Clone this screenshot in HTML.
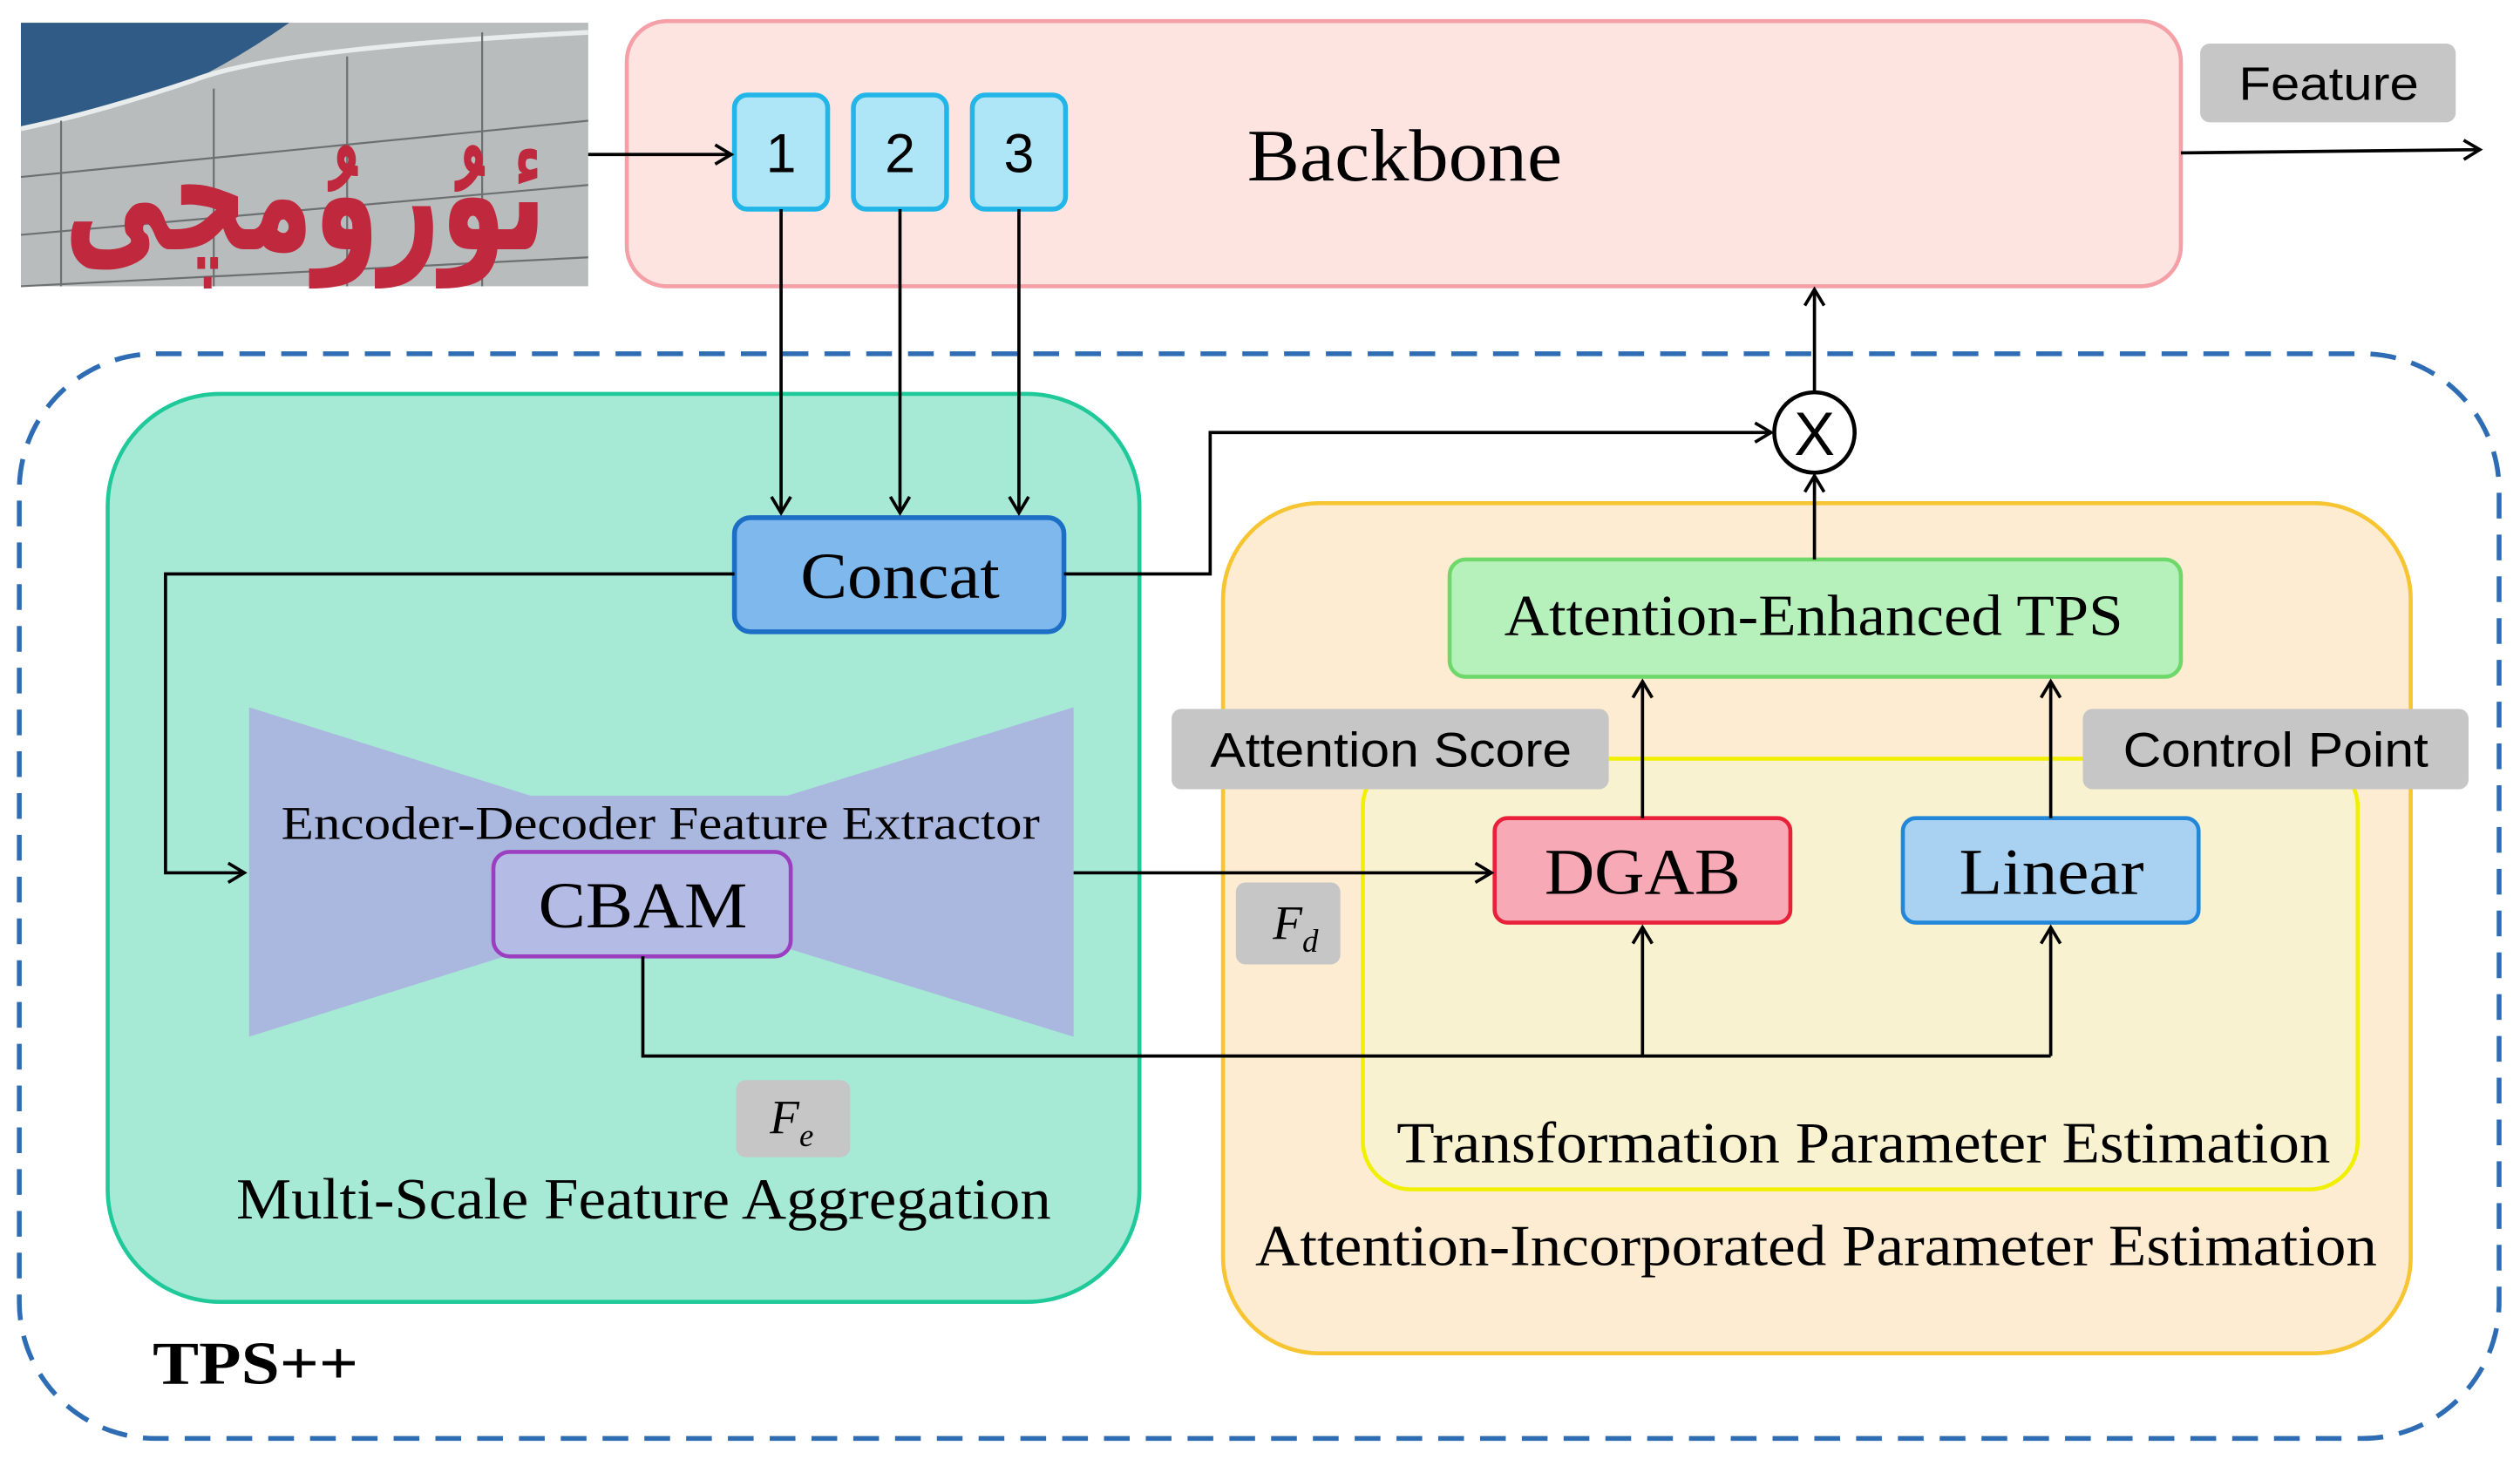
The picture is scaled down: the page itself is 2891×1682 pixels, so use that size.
<!DOCTYPE html>
<html><head><meta charset="utf-8"><style>
html,body{margin:0;padding:0;background:#fff;}
svg{display:block;}
.serif{font-family:"Liberation Serif",serif;}
.sans{font-family:"Liberation Sans",sans-serif;}
</style></head><body>
<svg width="2891" height="1682" viewBox="0 0 1568 912" xmlns="http://www.w3.org/2000/svg">
<defs>
<marker id="a" markerWidth="14" markerHeight="14" refX="11" refY="7" orient="auto" markerUnits="userSpaceOnUse">
<polyline points="1,1 11,7 1,13" fill="none" stroke="#000" stroke-width="2"/>
</marker>
</defs>
<rect width="1568" height="912" fill="#fff"/>
<!-- photo -->
<g>
<rect x="13" y="14" width="353" height="164" fill="#b9bcbc"/>
<path d="M13,14 L180,14 Q150,35 120,50 Q60,70 13,80 Z" fill="#2f5b86"/>
<path d="M13,80 Q60,70 120,50 Q170,30 366,20" fill="none" stroke="#e8ecec" stroke-width="3"/>
<g stroke="#6d7070" stroke-width="1.2" fill="none">
<path d="M13,110 L366,75"/><path d="M13,146 L366,115"/><path d="M13,178 L366,160"/>
<line x1="38" y1="75" x2="38" y2="178"/><line x1="133" y1="55" x2="133" y2="178"/><line x1="216" y1="35" x2="216" y2="178"/><line x1="300" y1="20" x2="300" y2="178"/>
</g>
<text x="190" y="155" text-anchor="middle" font-family="DejaVu Sans,sans-serif" font-size="100" font-weight="bold" fill="#c0283e" textLength="300" lengthAdjust="spacingAndGlyphs">ئۇرۇمچى</text>
</g>
<!-- backbone -->
<rect x="390" y="13" width="967" height="165" rx="25" fill="#fde4e1" stroke="#f4a0a6" stroke-width="2.5"/>
<text x="776" y="112" class="serif" font-size="46" textLength="196" lengthAdjust="spacingAndGlyphs">Backbone</text>
<g class="sans" font-size="34" text-anchor="middle">
<rect x="457" y="59" width="58" height="71" rx="8" fill="#aee6f7" stroke="#22b5e8" stroke-width="3"/>
<text x="486" y="107">1</text>
<rect x="531" y="59" width="58" height="71" rx="8" fill="#aee6f7" stroke="#22b5e8" stroke-width="3"/>
<text x="560" y="107">2</text>
<rect x="605" y="59" width="58" height="71" rx="8" fill="#aee6f7" stroke="#22b5e8" stroke-width="3"/>
<text x="634" y="107">3</text>
</g>
<rect x="1369" y="27" width="159" height="49" rx="6" fill="#c6c6c6"/>
<text x="1393" y="62" class="sans" font-size="29" textLength="112" lengthAdjust="spacingAndGlyphs">Feature</text>
<!-- outer dashed -->
<rect x="12" y="220" width="1543" height="675" rx="85" fill="none" stroke="#2e6db4" stroke-width="3" stroke-dasharray="16,10"/>
<!-- green -->
<rect x="67" y="245" width="642" height="565" rx="70" fill="#a6ead5" stroke="#1fc99a" stroke-width="2.5"/>
<!-- orange -->
<rect x="761" y="313" width="739" height="529" rx="60" fill="#fdebd2" stroke="#f7c531" stroke-width="2.5"/>
<rect x="848" y="472" width="619" height="268" rx="30" fill="#f8f2d0" stroke="#f0f000" stroke-width="2.5"/>
<!-- bow tie -->
<polygon points="155,440 330,495 490,495 668,440 668,645 490,590 330,590 155,645" fill="#aab8e0"/>
<text x="175" y="522" class="serif" font-size="29" textLength="472" lengthAdjust="spacingAndGlyphs">Encoder-Decoder Feature Extractor</text>
<rect x="307" y="530" width="185" height="65" rx="10" fill="#b4bce6" stroke="#9b3fc0" stroke-width="2.5"/>
<text x="335" y="577" class="serif" font-size="41" textLength="130" lengthAdjust="spacingAndGlyphs">CBAM</text>
<!-- concat -->
<rect x="457" y="322" width="205" height="71" rx="10" fill="#7fb8ec" stroke="#1d6fc6" stroke-width="3"/>
<text x="498" y="372" class="serif" font-size="41" textLength="124" lengthAdjust="spacingAndGlyphs">Concat</text>
<!-- TPS -->
<rect x="902" y="348" width="455" height="73" rx="10" fill="#b6f0bb" stroke="#6fd86a" stroke-width="2.5"/>
<text x="936" y="395" class="serif" font-size="36" textLength="385" lengthAdjust="spacingAndGlyphs">Attention-Enhanced TPS</text>
<rect x="930" y="509" width="184" height="65" rx="8" fill="#f7a9b6" stroke="#e8203a" stroke-width="2.5"/>
<text x="961" y="556" class="serif" font-size="41" textLength="122" lengthAdjust="spacingAndGlyphs">DGAB</text>
<rect x="1184" y="509" width="184" height="65" rx="8" fill="#a9d2f2" stroke="#2287d8" stroke-width="2.5"/>
<text x="1219" y="556" class="serif" font-size="41" textLength="115" lengthAdjust="spacingAndGlyphs">Linear</text>
<!-- gray labels -->
<rect x="729" y="441" width="272" height="50" rx="6" fill="#c6c6c6"/>
<text x="753" y="477" class="sans" font-size="30" textLength="225" lengthAdjust="spacingAndGlyphs">Attention Score</text>
<rect x="1296" y="441" width="240" height="50" rx="6" fill="#c6c6c6"/>
<text x="1321" y="477" class="sans" font-size="30" textLength="190" lengthAdjust="spacingAndGlyphs">Control Point</text>
<rect x="769" y="549" width="65" height="51" rx="6" fill="#c6c6c6"/>
<text x="792" y="584" class="serif" font-size="30" font-style="italic">F<tspan font-size="20" dy="8">d</tspan></text>
<rect x="458" y="672" width="71" height="48" rx="6" fill="#c6c6c6"/>
<text x="479" y="705" class="serif" font-size="30" font-style="italic">F<tspan font-size="20" dy="8">e</tspan></text>
<!-- texts -->
<text x="869" y="723" class="serif" font-size="36" textLength="581" lengthAdjust="spacingAndGlyphs">Transformation Parameter Estimation</text>
<text x="781" y="787" class="serif" font-size="36" textLength="698" lengthAdjust="spacingAndGlyphs">Attention-Incorporated Parameter Estimation</text>
<text x="147" y="758" class="serif" font-size="36" textLength="507" lengthAdjust="spacingAndGlyphs">Multi-Scale Feature Aggregation</text>
<text x="95" y="861" class="serif" font-size="38" font-weight="bold" textLength="128" lengthAdjust="spacingAndGlyphs">TPS++</text>
<!-- multiply -->
<circle cx="1129" cy="269" r="25" fill="#fff" stroke="#000" stroke-width="2.5"/>
<text x="1129" y="283" text-anchor="middle" class="sans" font-size="38">X</text>
<!-- connectors -->
<g fill="none" stroke="#000" stroke-width="2">
<line x1="366" y1="96" x2="455" y2="96" marker-end="url(#a)"/>
<line x1="1357" y1="95" x2="1543" y2="93" marker-end="url(#a)"/>
<line x1="486" y1="130" x2="486" y2="319" marker-end="url(#a)"/>
<line x1="560" y1="130" x2="560" y2="319" marker-end="url(#a)"/>
<line x1="634" y1="130" x2="634" y2="319" marker-end="url(#a)"/>
<polyline points="457,357 103,357 103,543 152,543" marker-end="url(#a)"/>
<polyline points="662,357 753,357 753,269 1102,269" marker-end="url(#a)"/>
<line x1="1129" y1="244" x2="1129" y2="180" marker-end="url(#a)"/>
<line x1="1129" y1="348" x2="1129" y2="296" marker-end="url(#a)"/>
<line x1="668" y1="543" x2="928" y2="543" marker-end="url(#a)"/>
<polyline points="400,595 400,657 1276,657"/>
<line x1="1022" y1="657" x2="1022" y2="577" marker-end="url(#a)"/>
<line x1="1276" y1="657" x2="1276" y2="577" marker-end="url(#a)"/>
<line x1="1022" y1="509" x2="1022" y2="424" marker-end="url(#a)"/>
<line x1="1276" y1="509" x2="1276" y2="424" marker-end="url(#a)"/>
</g>
</svg>
</body></html>
